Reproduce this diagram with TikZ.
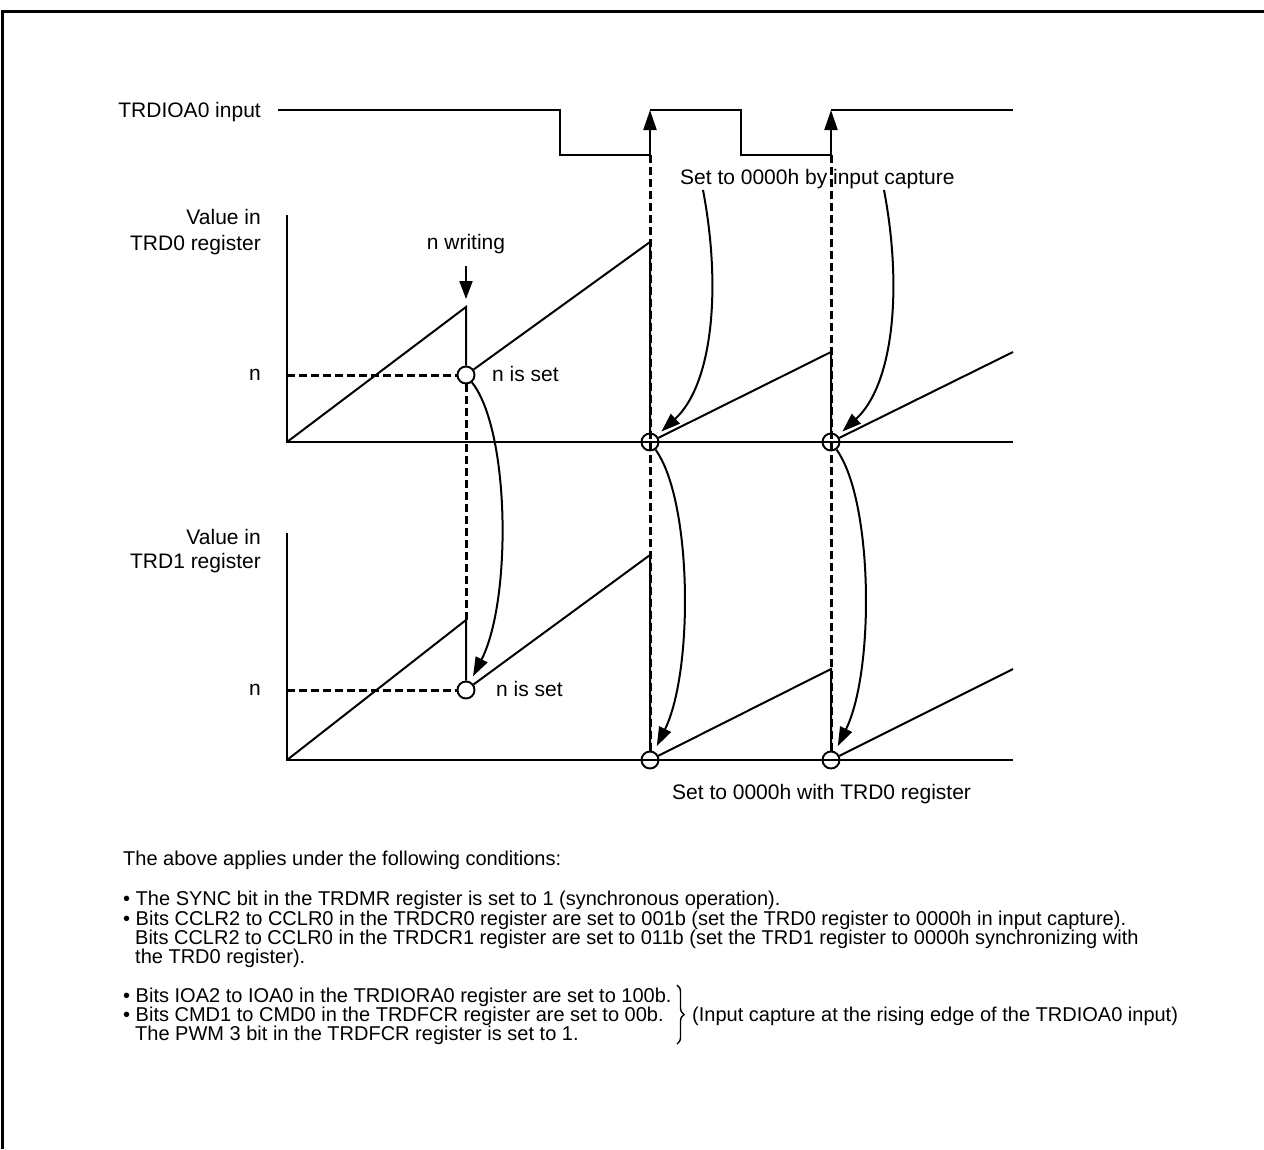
\documentclass[tikz,border=0pt]{standalone}
\usepackage{fontspec}
\setmainfont{Liberation Sans}
\usetikzlibrary{arrows.meta,decorations.pathreplacing}
\begin{document}
\begin{tikzpicture}[x=1pt,y=-1pt,
  lbl/.style={font=\fontsize{21}{25}\selectfont, inner sep=0pt},
  note/.style={font=\fontsize{20}{23}\selectfont, inner sep=0pt, anchor=base west},
  sig/.style={line width=2.2pt},
  wave/.style={line width=2pt},
  guide/.style={line width=3pt, dash pattern=on 8pt off 4pt},
  ring/.style={circle, draw, line width=1.9pt, minimum size=17pt, inner sep=0pt},
  arr/.style={line width=2pt, -{Triangle[length=19pt,width=13pt]}},
  frame/.style={line width=3.5pt, line join=miter},
]
\useasboundingbox (0,0) rectangle (1264,1149);
\draw[frame] (2.5,1149) -- (2.5,11.5) -- (1264,11.5);

% ---------- labels ----------
\node[lbl, anchor=base east] (lin) at (261,117.5) {TRDIOA0 input};
\node[lbl, anchor=base east] (l0a) at (261,224.5) {Value in};
\node[lbl, anchor=base east] (l0b) at (261,250.5) {TRD0 register};
\node[lbl, anchor=base east] (l1a) at (261,544.5) {Value in};
\node[lbl, anchor=base east] (l1b) at (261,568.5) {TRD1 register};
\node[lbl, anchor=base east] (ln0) at (261,380.5) {n};
\node[lbl, anchor=base east] (ln1) at (261,695.5) {n};
\node[lbl, anchor=base] (nw) at (466,249) {n writing};
\node[lbl, anchor=base west] (ns0) at (492,381) {n is set};
\node[lbl, anchor=base west] (ns1) at (496,696) {n is set};
\node[lbl, anchor=base west] (sic) at (680,184) {Set to 0000h by input capture};
\node[lbl, anchor=base west] (swt) at (672,799) {Set to 0000h with TRD0 register};

% ---------- key points ----------
\coordinate (a0) at (287,442);  \coordinate (a0t) at (287,215); \coordinate (a0e) at (1013,442);
\coordinate (a1) at (287,760);  \coordinate (a1t) at (287,533); \coordinate (a1e) at (1013,760);
\node[ring] (r0) at (466,375) {};
\node[ring] (c0) at (650,442) {};
\node[ring] (d0) at (831,442) {};
\node[ring] (r1) at (466,690) {};
\node[ring] (c1) at (650,760) {};
\node[ring] (d1) at (831,760) {};
\coordinate (n0) at (287,375);
\coordinate (n1) at (287,690);

% ---------- input signal ----------
\coordinate (e1) at (650,155); \coordinate (e1t) at (650,110);
\coordinate (e2) at (831,155); \coordinate (e2t) at (831,110);
\draw[sig] (278,110) -| (560,155) -- (e1);
\draw[sig] (e1t) -| (741,155) -- (e2);
\draw[sig] (e2t) -- (1013,110);
\draw[sig, -{Triangle[length=20pt,width=13pt]}] (e1) -- (e1t);
\draw[sig, -{Triangle[length=20pt,width=13pt]}] (e2) -- (e2t);

% ---------- dashed guides ----------
\draw[guide] (n0) -- (r0);
\draw[guide] (n1) -- (r1);
\draw[guide] (r0) -- (466,620);
\draw[guide] (e1) -- (c1);
\draw[guide] (e2) -- (d1);

% ---------- TRD0 ----------
\draw[wave] (a0t) -- (a0) -- (a0e);
\coordinate (p01) at (466,307);
\coordinate (p02) at (650,242);
\coordinate (p03) at (831,352);
\coordinate (p04) at (1013,352);
\draw[wave] (a0) -- (p01) -- (r0);
\draw[wave] (r0) -- (p02) -- (c0);
\draw[wave] (c0) -- (p03) -- (d0);
\draw[wave] (d0) -- (p04);

% ---------- TRD1 ----------
\draw[wave] (a1t) -- (a1) -- (a1e);
\coordinate (p11) at (466,620);
\coordinate (p12) at (650,555);
\coordinate (p13) at (831,669);
\coordinate (p14) at (1013,669);
\draw[wave] (a1) -- (p11) -- (r1);
\draw[wave] (r1) -- (p12) -- (c1);
\draw[wave] (c1) -- (p13) -- (d1);
\draw[wave] (d1) -- (p14);

% ---------- arrows ----------
\coordinate (nws) at (466,266);
\coordinate (nwt) at (466,299);
\draw[arr, -{Triangle[length=18pt,width=13pt]}] (nws) -- (nwt);

\coordinate (q1) at (703,190);
\coordinate (q2) at (884,190);
\draw[arr, shorten >=6pt] (q1) .. controls (722,290) and (712,385) .. (c0);
\draw[arr, shorten >=6pt] (q2) .. controls (903,290) and (893,385) .. (d0);

\draw[arr, shorten >=6pt] (r0) .. controls (510,430) and (512,600) .. (r1);
\draw[arr, shorten >=6pt] (c0) .. controls (692,500) and (694,670) .. (c1);
\draw[arr, shorten >=6pt] (d0) .. controls (873,500) and (875,670) .. (d1);

% ---------- notes ----------
\node[note] (t0) at (123,865) {The above applies under the following conditions:};
\node[note] (t1) at (123,905) {• The SYNC bit in the TRDMR register is set to 1 (synchronous operation).};
\node[note] (t2) at (123,925) {• Bits CCLR2 to CCLR0 in the TRDCR0 register are set to 001b (set the TRD0 register to 0000h in input capture).};
\node[note] (t3) at (135,944) {Bits CCLR2 to CCLR0 in the TRDCR1 register are set to 011b (set the TRD1 register to 0000h synchronizing with};
\node[note] (t4) at (135,963) {the TRD0 register).};
\node[note] (t5) at (123,1002) {• Bits IOA2 to IOA0 in the TRDIORA0 register are set to 100b.};
\node[note] (t6) at (123,1021) {• Bits CMD1 to CMD0 in the TRDFCR register are set to 00b.};
\node[note] (t7) at (135,1040) {The PWM 3 bit in the TRDFCR register is set to 1.};
\coordinate (b0) at (677,985);
\coordinate (b1) at (677,1044);
\draw[line width=1.4pt, decorate, decoration={brace, amplitude=7pt}] (b0) -- (b1);
\node[note] (t8) at (692,1021) {(Input capture at the rising edge of the TRDIOA0 input)};
\end{tikzpicture}
\end{document}
